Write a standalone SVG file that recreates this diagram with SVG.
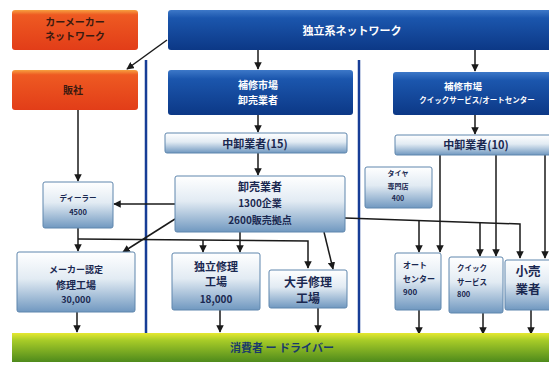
<svg xmlns="http://www.w3.org/2000/svg" width="549" height="366" viewBox="0 0 549 366">
<defs>
<linearGradient id="gRed" x1="0" y1="0" x2="0" y2="1">
<stop offset="0" stop-color="#f7a040"/><stop offset="0.12" stop-color="#ee5a22"/><stop offset="1" stop-color="#e23d18"/>
</linearGradient>
<linearGradient id="gBlue" x1="0" y1="0" x2="0" y2="1">
<stop offset="0" stop-color="#3d78c8"/><stop offset="0.2" stop-color="#1b56ad"/><stop offset="1" stop-color="#0c3886"/>
</linearGradient>
<linearGradient id="gLight" x1="0" y1="0" x2="0" y2="1">
<stop offset="0" stop-color="#ffffff"/><stop offset="0.45" stop-color="#e2ebf3"/><stop offset="1" stop-color="#7098c0"/>
</linearGradient>
<linearGradient id="gBar" x1="0" y1="0" x2="0" y2="1">
<stop offset="0" stop-color="#e6e830"/><stop offset="0.25" stop-color="#a8cc28"/><stop offset="1" stop-color="#4e8a1c"/>
</linearGradient>
<marker id="arr" viewBox="0 0 10 10" refX="9" refY="5" markerWidth="5" markerHeight="5" orient="auto">
<path d="M0,0 L10,5 L0,10 z" fill="#1a1a1a"/>
</marker>
<style>
text{font-family:"Noto Sans CJK JP","Liberation Sans",sans-serif;font-weight:bold;text-anchor:middle;}
.red{fill:url(#gRed);}
.blue{fill:url(#gBlue);}
.light{fill:url(#gLight);stroke:#5f86ad;stroke-width:1;}
.tw{fill:#ffffff;}
.tr{fill:#3a1a10;}
.tn{fill:#1a2850;}
.c{fill:none;stroke:#1a1a1a;stroke-width:1.5;}
.ca{fill:none;stroke:#1a1a1a;stroke-width:1.5;marker-end:url(#arr);}
.sep{stroke:#173d96;stroke-width:2.5;}
</style>
</defs>
<rect width="549" height="366" fill="#ffffff"/>

<g id="separators">
<line class="sep" x1="146" y1="60" x2="146" y2="336"/>
<line class="sep" x1="359" y1="60" x2="359" y2="336"/>
</g>

<g id="connectors">
<line class="ca" x1="167" y1="40" x2="127" y2="69"/>
<line class="ca" x1="258" y1="50" x2="258" y2="69"/>
<line class="ca" x1="258" y1="115" x2="258" y2="132"/>
<line class="ca" x1="258" y1="153" x2="258" y2="175"/>
<line class="ca" x1="475" y1="50" x2="475" y2="71"/>
<line class="ca" x1="475" y1="115" x2="475" y2="134"/>
<line class="ca" x1="78" y1="110" x2="78" y2="181"/>
<line class="ca" x1="175" y1="204" x2="114" y2="204"/>
<line class="ca" x1="175" y1="219" x2="123" y2="252"/>
<line class="ca" x1="78" y1="228" x2="78" y2="251"/>
<polyline class="ca" points="78,239 308,241 308,268"/>
<line class="ca" x1="203" y1="240" x2="203" y2="252"/>
<line class="ca" x1="240" y1="232" x2="240" y2="252"/>
<line class="ca" x1="324" y1="232" x2="333" y2="269"/>
<polyline class="ca" points="345,218 520,224 520,258"/>
<line class="ca" x1="419" y1="221" x2="419" y2="252"/>
<line class="ca" x1="480" y1="223" x2="480" y2="256"/>
<line class="ca" x1="440" y1="155" x2="440" y2="252"/>
<line class="ca" x1="496" y1="155" x2="496" y2="256"/>
<line class="ca" x1="545" y1="155" x2="545" y2="258"/>
<line class="ca" x1="77" y1="312" x2="77" y2="332"/>
<line class="ca" x1="220" y1="310" x2="220" y2="332"/>
<line class="ca" x1="318" y1="308" x2="318" y2="332"/>
<line class="ca" x1="419" y1="310" x2="419" y2="334"/>
<line class="ca" x1="483" y1="313" x2="483" y2="334"/>
<line class="ca" x1="531" y1="310" x2="531" y2="334"/>
</g>

<g id="carmaker">
<rect class="red" x="12" y="10" width="126" height="40" rx="3"/>
<text class="tr" x="75" y="26" font-size="10">カーメーカー</text>
<text class="tr" x="75" y="40" font-size="10">ネットワーク</text>
</g>
<g id="hansha">
<rect class="red" x="12" y="70" width="126" height="40" rx="3"/>
<text class="tr" x="73" y="94" font-size="10">販社</text>
</g>
<g id="independent">
<rect class="blue" x="168" y="10" width="392" height="40" rx="3"/>
<text class="tw" x="352" y="35" font-size="11">独立系ネットワーク</text>
</g>
<g id="market-wholesale">
<rect class="blue" x="168" y="70" width="185" height="45" rx="3"/>
<text class="tw" x="258" y="89" font-size="10">補修市場</text>
<text class="tw" x="258" y="104" font-size="10">卸売業者</text>
</g>
<g id="market-qs">
<rect class="blue" x="393" y="72" width="170" height="43" rx="3"/>
<text class="tw" x="463" y="90" font-size="9.5">補修市場</text>
<text class="tw" x="477" y="103" font-size="7.5">クイックサービス/オートセンター</text>
</g>
<g id="mid15">
<rect class="light" x="165" y="133" width="182" height="20" rx="2"/>
<text class="tn" x="255" y="148" font-size="11">中卸業者(15)</text>
</g>
<g id="mid10">
<rect class="light" x="395" y="135" width="165" height="20" rx="2"/>
<text class="tn" x="476" y="149" font-size="11">中卸業者(10)</text>
</g>
<g id="wholesaler">
<rect class="light" x="175" y="176" width="170" height="56" rx="2"/>
<text class="tn" x="260" y="191" font-size="11">卸売業者</text>
<text class="tn" x="260" y="207" font-size="10">1300企業</text>
<text class="tn" x="260" y="224" font-size="10">2600販売拠点</text>
</g>
<g id="tire">
<rect class="light" x="365" y="167" width="67" height="41" rx="2"/>
<text class="tn" x="398" y="176" font-size="7">タイヤ</text>
<text class="tn" x="398" y="189" font-size="7">専門店</text>
<text class="tn" x="398" y="201" font-size="7">400</text>
</g>
<g id="dealer">
<rect class="light" x="43" y="182" width="70" height="46" rx="2"/>
<text class="tn" x="78" y="201" font-size="7.5">ディーラー</text>
<text class="tn" x="78" y="215" font-size="7.5">4500</text>
</g>
<g id="maker-shop">
<rect class="light" x="17" y="252" width="118" height="60" rx="2"/>
<text class="tn" x="76" y="273" font-size="9">メーカー認定</text>
<text class="tn" x="76" y="289" font-size="10">修理工場</text>
<text class="tn" x="76" y="303" font-size="9">30,000</text>
</g>
<g id="indep-shop">
<rect class="light" x="172" y="253" width="88" height="57" rx="2"/>
<text class="tn" x="216" y="271" font-size="11">独立修理</text>
<text class="tn" x="216" y="286" font-size="11">工場</text>
<text class="tn" x="216" y="303" font-size="10">18,000</text>
</g>
<g id="major-shop">
<rect class="light" x="269" y="270" width="78" height="38" rx="2"/>
<text class="tn" x="308" y="287" font-size="12">大手修理</text>
<text class="tn" x="308" y="303" font-size="12">工場</text>
</g>
<g id="autocenter">
<rect class="light" x="395" y="253" width="46" height="57" rx="2"/>
<text class="tn" x="403" y="268" font-size="8" style="text-anchor:start">オート</text>
<text class="tn" x="403" y="282" font-size="8" style="text-anchor:start">センター</text>
<text class="tn" x="403" y="295" font-size="8" style="text-anchor:start">900</text>
</g>
<g id="quickservice">
<rect class="light" x="449" y="257" width="54" height="56" rx="2"/>
<text class="tn" x="457" y="271" font-size="7.5" style="text-anchor:start">クイック</text>
<text class="tn" x="457" y="285" font-size="7.5" style="text-anchor:start">サービス</text>
<text class="tn" x="457" y="297" font-size="7.5" style="text-anchor:start">800</text>
</g>
<g id="retail">
<rect class="light" x="505" y="260" width="50" height="50" rx="2"/>
<text class="tn" x="528" y="276" font-size="12.5">小売</text>
<text class="tn" x="528" y="294" font-size="12.5">業者</text>
</g>
<g id="consumer">
<rect fill="url(#gBar)" x="12" y="333" width="545" height="29"/>
<text fill="#1a3a6a" x="282" y="352" font-size="11">消費者 ー ドライバー</text>
</g>
</svg>
